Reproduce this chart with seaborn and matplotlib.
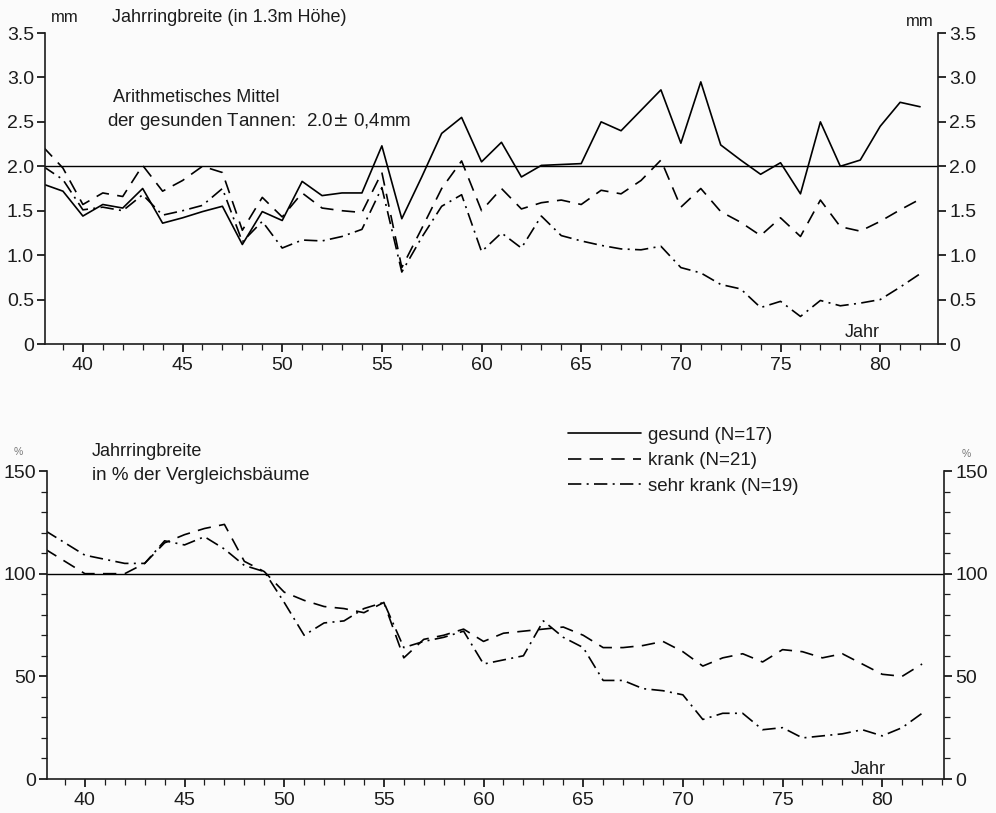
import numpy as np
import pandas as pd
import matplotlib
matplotlib.use("Agg")
import matplotlib.pyplot as plt
from matplotlib.lines import Line2D
from matplotlib.ticker import MultipleLocator
import seaborn as sns

# Jahre (zweistellig, 1938-1982)
jahre = list(range(38, 83))

# Jahrringbreite in mm
gesund_mm = [1.80, 1.72, 1.44, 1.57, 1.53, 1.75, 1.36, 1.42, 1.49, 1.55,
             1.12, 1.49, 1.39, 1.83, 1.67, 1.70, 1.70, 2.23, 1.41, 1.88,
             2.37, 2.55, 2.05, 2.27, 1.88, 2.01, 2.02, 2.03, 2.50, 2.40,
             2.63, 2.86, 2.26, 2.95, 2.24, 2.07, 1.91, 2.04, 1.69, 2.50,
             2.00, 2.07, 2.45, 2.72, 2.67]
krank_mm = [2.22, 1.98, 1.57, 1.70, 1.66, 2.01, 1.72, 1.84, 2.00, 1.93,
            1.28, 1.65, 1.43, 1.70, 1.53, 1.50, 1.48, 1.93, 0.86, 1.30,
            1.75, 2.06, 1.50, 1.75, 1.52, 1.59, 1.62, 1.57, 1.73, 1.69,
            1.84, 2.07, 1.54, 1.75, 1.49, 1.37, 1.22, 1.42, 1.21, 1.62,
            1.32, 1.27, 1.38, 1.51, 1.63]
sehr_krank_mm = [2.00, 1.85, 1.51, 1.54, 1.50, 1.68, 1.45, 1.50, 1.56, 1.75,
                 1.15, 1.38, 1.08, 1.17, 1.16, 1.21, 1.29, 1.76, 0.81, 1.20,
                 1.55, 1.68, 1.04, 1.25, 1.08, 1.44, 1.22, 1.16, 1.11, 1.07,
                 1.06, 1.10, 0.86, 0.80, 0.67, 0.62, 0.41, 0.48, 0.31, 0.49,
                 0.43, 0.46, 0.50, 0.64, 0.79]

# Jahrringbreite in % der Vergleichsbaeume
krank_pct = [112, 106, 100, 100, 100, 105, 115, 119, 122, 124,
             106, 101, 91, 87, 84, 83, 81, 86, 59, 68,
             70, 73, 67, 71, 72, 73, 74, 70, 64, 64,
             65, 67, 62, 55, 59, 61, 57, 63, 62, 59,
             61, 56, 51, 50, 56]
sehr_krank_pct = [121, 115, 109, 107, 105, 105, 116, 114, 118, 112,
                  104, 101, 86, 70, 76, 77, 83, 86, 64, 67,
                  69, 72, 56, 58, 60, 77, 69, 64, 48, 48,
                  44, 43, 41, 29, 32, 32, 24, 25, 20, 21,
                  22, 24, 21, 25, 32]

gruppen = ["gesund (N=17)", "krank (N=21)", "sehr krank (N=19)"]

top_df = pd.concat([
    pd.DataFrame({"Jahr": jahre, "Wert": gesund_mm, "Gruppe": gruppen[0]}),
    pd.DataFrame({"Jahr": jahre, "Wert": krank_mm, "Gruppe": gruppen[1]}),
    pd.DataFrame({"Jahr": jahre, "Wert": sehr_krank_mm, "Gruppe": gruppen[2]}),
], ignore_index=True)
bot_df = pd.concat([
    pd.DataFrame({"Jahr": jahre, "Wert": krank_pct, "Gruppe": gruppen[1]}),
    pd.DataFrame({"Jahr": jahre, "Wert": sehr_krank_pct, "Gruppe": gruppen[2]}),
], ignore_index=True)

sns.set_theme(style="ticks")
plt.rcParams["font.family"] = ["Liberation Sans", "DejaVu Sans"]
ink = "#1c1c1c"
bg = "#fbfbfb"

dash_styles = {gruppen[0]: "", gruppen[1]: (8, 5), gruppen[2]: (8, 3.2, 1.2, 3.2)}
lw = 1.2

W, H = 996, 813
fig = plt.figure(figsize=(W / 100, H / 100), dpi=100, facecolor=bg)

def px_axes(left, top, right, bottom):
    return fig.add_axes([left / W, 1 - bottom / H, (right - left) / W, (bottom - top) / H])

ax1 = px_axes(45, 33, 938, 344)
ax2 = px_axes(47, 471, 944, 779)

for ax in (ax1, ax2):
    ax.set_facecolor(bg)
    ax.spines["top"].set_visible(False)
    for s in ("left", "right", "bottom"):
        ax.spines[s].set_color(ink)
        ax.spines[s].set_linewidth(1.2)
    ax.xaxis.set_major_locator(MultipleLocator(5))
    ax.xaxis.set_minor_locator(MultipleLocator(1))
    ax.tick_params(axis="both", which="major", direction="out", length=6, width=1.3,
                   colors=ink, labelsize=14, left=True, right=True,
                   labelleft=True, labelright=True, pad=3)
    ax.tick_params(axis="both", which="minor", direction="out", length=4, width=0.9,
                   colors=ink, left=True, right=True)
    ax.tick_params(axis="y", which="major", pad=2)

# oberes Diagramm: absolute Jahrringbreite
sns.lineplot(data=top_df, x="Jahr", y="Wert", style="Gruppe", dashes=dash_styles,
             color="black", linewidth=lw, legend=False, ax=ax1)
ax1.axhline(2.0, color="black", linewidth=1.0)
ax1.set_xlim(38.1, 82.9)
ax1.set_ylim(0, 3.5)
ax1.set_yticks([0, 0.5, 1.0, 1.5, 2.0, 2.5, 3.0, 3.5])
ax1.set_yticklabels(["0", "0.5", "1.0", "1.5", "2.0", "2.5", "3.0", "3.5"])
ax1.set_xlabel("")
ax1.set_ylabel("")
ax1.text(78.2, 0.13, "Jahr", fontsize=13, color=ink, va="center", ha="left")

# unteres Diagramm: relative Jahrringbreite
sns.lineplot(data=bot_df, x="Jahr", y="Wert", style="Gruppe", dashes=dash_styles,
             color="black", linewidth=lw, legend=False, ax=ax2)
ax2.axhline(100, color="black", linewidth=1.0)
ax2.set_xlim(38.1, 83.1)
ax2.set_ylim(0, 150)
ax2.set_yticks([0, 50, 100, 150])
ax2.yaxis.set_minor_locator(MultipleLocator(10))
ax2.set_xlabel("")
ax2.set_ylabel("")
ax2.text(78.4, 4.5, "Jahr", fontsize=13, color=ink, va="center", ha="left")

def ftext(x, y, s, size=12, **kw):
    fig.text(x / W, 1 - y / H, s, fontsize=size, color=kw.pop("color", ink),
             va="center", ha=kw.pop("ha", "left"), **kw)

ftext(51, 18, "mm", 12)
ftext(112, 18, "Jahrringbreite (in 1.3m Höhe)", 13)
ftext(113, 98, "Arithmetisches Mittel", 13)
ftext(107, 122, "der gesunden Tannen:  2.0$\\pm$ 0,4mm", 13.5)
ftext(906, 22, "mm", 12)

ftext(14, 452, "%", 7.5, color="#777777")
ftext(92, 451, "Jahrringbreite", 13)
ftext(92, 475, "in % der Vergleichsbäume", 13.5)
ftext(962, 454, "%", 7.5, color="#777777")

handles = [Line2D([], [], color="black", linewidth=lw, linestyle="-"),
           Line2D([], [], color="black", linewidth=lw, dashes=dash_styles[gruppen[1]]),
           Line2D([], [], color="black", linewidth=lw, dashes=dash_styles[gruppen[2]])]
fig.legend(handles, gruppen, loc="upper left", bbox_to_anchor=(560 / W, 1 - 419 / H),
           frameon=False, fontsize=13.5, handlelength=3.9, handletextpad=0.4,
           labelspacing=0.45, labelcolor=ink, borderaxespad=0)

fig.savefig("out.png", dpi=100, facecolor=bg)
